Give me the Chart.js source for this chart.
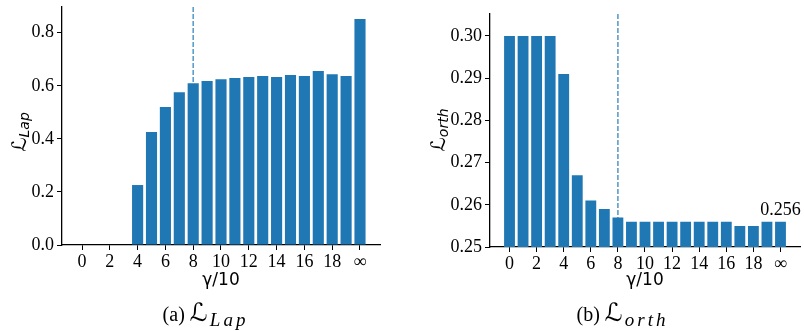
<!DOCTYPE html>
<html>
<head>
<meta charset="utf-8">
<script src="https://cdn.jsdelivr.net/npm/chart.js@4"></script>
<style>
  html, body { margin: 0; padding: 0; background: #fff; }
  #wrap { position: relative; width: 804px; height: 331px; overflow: hidden; }
  canvas { position: absolute; top: 0; }
  #cLap { left: 0; }
  #cOrth { left: 400px; }
</style>
</head>
<body>
<div id="wrap">
  <canvas id="cLap" width="400" height="331"></canvas>
  <canvas id="cOrth" width="404" height="331"></canvas>
</div>
<script>
// γ/10 positions: 0..19 then the "∞" setting at position 20
const gammaSteps = [0,1,2,3,4,5,6,7,8,9,10,11,12,13,14,15,16,17,18,19,20];
const xTickValues = [0,2,4,6,8,10,12,14,16,18,20];
const xTickLabels = ['0','2','4','6','8','10','12','14','16','18','\u221E'];

// Laplacian loss per γ setting (no bar for the first four)
const lapLoss = [0,0,0,0,0.226,0.426,0.520,0.576,0.610,0.618,0.625,0.629,0.633,0.637,0.633,0.641,0.637,0.656,0.644,0.637,0.852];
// Orthogonality loss per γ setting
const orthLoss = [0.300,0.300,0.300,0.300,0.291,0.267,0.261,0.259,0.257,0.256,0.256,0.256,0.256,0.256,0.256,0.256,0.256,0.255,0.255,0.256,0.256];

const lapYTicks = [0.0,0.2,0.4,0.6,0.8];
const orthYTicks = [0.25,0.26,0.27,0.28,0.29,0.30];

// chosen setting, marked with a dashed line
const chosenStep = 8;

const BAR = '#1f77b4';
const SERIF = "'Liberation Serif', 'DejaVu Serif', serif";
const SANS = "'DejaVu Sans', sans-serif";

Chart.defaults.font.family = SERIF;
Chart.defaults.font.size = 18;
Chart.defaults.color = '#000';

function pts(vals) { return gammaSteps.map((g, i) => ({ x: g, y: vals[i] })); }

// width of a string drawn letter by letter with a gap between letters
function spacedWidth(ctx, s, gap) {
  let w = 0;
  for (const ch of s) w += ctx.measureText(ch).width + gap;
  return w - gap;
}
function drawSpaced(ctx, s, x, y, gap) {
  for (const ch of s) { ctx.fillText(ch, x, y); x += ctx.measureText(ch).width + gap; }
}

// Draws the rotated ℒ_sub axis title, the γ/10 label, the caption and an optional value label
function decorPlugin(cfg) {
  return {
    id: 'decor',
    afterDraw(chart) {
      const ctx = chart.ctx;
      const a = chart.chartArea;
      ctx.save();
      ctx.fillStyle = '#000';
      // y axis title, rotated
      ctx.save();
      ctx.translate(cfg.yTitleX, cfg.yTitleY);
      ctx.rotate(-Math.PI / 2);
      ctx.font = 'italic 20px ' + SANS;
      const wL = ctx.measureText('\u2112').width;
      ctx.font = 'italic 14px ' + SANS;
      const wS = ctx.measureText(cfg.sub).width;
      const start = -(wL + wS) / 2;
      ctx.textBaseline = 'alphabetic';
      ctx.textAlign = 'left';
      ctx.font = 'italic 20px ' + SANS;
      ctx.fillText('\u2112', start, 7);
      ctx.font = 'italic 14px ' + SANS;
      ctx.fillText(cfg.sub, start + wL, 10);
      ctx.restore();
      // x axis title
      ctx.font = '17px ' + SANS;
      ctx.textAlign = 'center';
      ctx.textBaseline = 'middle';
      ctx.fillText('\u03B3/10', (a.left + a.right) / 2, 281);
      // caption
      const head = cfg.capHead + ' ';
      const gap = 3;
      ctx.font = '20px ' + SERIF;
      const wh = ctx.measureText(head).width;
      ctx.font = 'italic 25px ' + SANS;
      const wl = ctx.measureText('\u2112').width;
      ctx.font = 'italic 19px ' + SERIF;
      const ws = spacedWidth(ctx, cfg.sub, gap);
      let cx = cfg.capCenter - (wh + wl + ws + 2) / 2;
      ctx.textAlign = 'left';
      ctx.textBaseline = 'alphabetic';
      ctx.font = '20px ' + SERIF;
      ctx.fillText(head, cx, 321);
      cx += wh;
      ctx.font = 'italic 25px ' + SANS;
      ctx.fillText('\u2112', cx, 321);
      cx += wl + 2;
      ctx.font = 'italic 19px ' + SERIF;
      drawSpaced(ctx, cfg.sub, cx, 326, gap);
      // value label above a bar
      if (cfg.valueIndex !== undefined) {
        const meta = chart.getDatasetMeta(0);
        const bar = meta.data[cfg.valueIndex];
        const v = cfg.values[cfg.valueIndex];
        ctx.font = '18px ' + SERIF;
        ctx.textAlign = 'center';
        ctx.textBaseline = 'alphabetic';
        ctx.fillText(v.toFixed(3), bar.x, bar.y - 7);
      }
      ctx.restore();
    }
  };
}

function makeChart(id, vals, yMin, yMax, yTicks, digits, pad, decor) {
  const ctx = document.getElementById(id).getContext('2d');
  return new Chart(ctx, {
    type: 'bar',
    data: {
      datasets: [
        {
          type: 'bar',
          data: pts(vals),
          backgroundColor: BAR,
          borderWidth: 0,
          barPercentage: 0.8,
          categoryPercentage: 1.0,
          order: 0
        },
        {
          type: 'line',
          data: [{ x: chosenStep, y: yMax }, { x: chosenStep, y: yMin }],
          borderColor: 'rgba(31,119,180,0.72)',
          borderWidth: 1.6,
          borderDash: [5, 2],
          pointRadius: 0,
          fill: false,
          order: 1
        }
      ]
    },
    options: {
      responsive: false,
      animation: false,
      events: [],
      layout: { padding: pad },
      plugins: { legend: { display: false }, tooltip: { enabled: false } },
      scales: {
        x: {
          type: 'linear',
          offset: false,
          min: -1.44,
          max: 21.44,
          afterBuildTicks(s) { s.ticks = xTickValues.map(v => ({ value: v })); },
          afterFit(s) { s.height = 35; s.paddingLeft = 0; s.paddingRight = 0; },
          ticks: {
            autoSkip: false,
            maxRotation: 0,
            padding: 1,
            color: '#000',
            font: { family: SERIF, size: 18 },
            callback(v) { const i = xTickValues.indexOf(v); return i >= 0 ? xTickLabels[i] : ''; }
          },
          grid: { display: true, offset: false, drawOnChartArea: false, drawTicks: true, tickLength: 5, color: '#000', lineWidth: 1 },
          border: { display: true, color: '#000', width: 1.3 }
        },
        y: {
          type: 'linear',
          min: yMin,
          max: yMax,
          afterBuildTicks(s) { s.ticks = yTicks.map(v => ({ value: v })); },
          afterFit(s) { s.width = pad.yw; s.paddingTop = 0; s.paddingBottom = 0; },
          ticks: {
            padding: 3,
            color: '#000',
            font: { family: SERIF, size: 18 },
            callback(v) { return Number(v).toFixed(digits); }
          },
          grid: { display: true, drawOnChartArea: false, drawTicks: true, tickLength: 5, color: '#000', lineWidth: 1 },
          border: { display: true, color: '#000', width: 1.3 }
        }
      }
    },
    plugins: [decor]
  });
}

makeChart('cLap', lapLoss, 0, 0.897, lapYTicks, 1,
  { left: 0, right: 20, top: 7, bottom: 51, yw: 62 },
  decorPlugin({ sub: 'Lap', yTitleX: 19, yTitleY: 132, capHead: '(a)', capCenter: 204 }));

makeChart('cOrth', orthLoss, 0.25, 0.3052, orthYTicks, 2,
  { left: 0, right: 4, top: 14, bottom: 49, yw: 90 },
  decorPlugin({ sub: 'orth', yTitleX: 38, yTitleY: 130, capHead: '(b)', capCenter: 221, valueIndex: 20, values: orthLoss }));
</script>
</body>
</html>
